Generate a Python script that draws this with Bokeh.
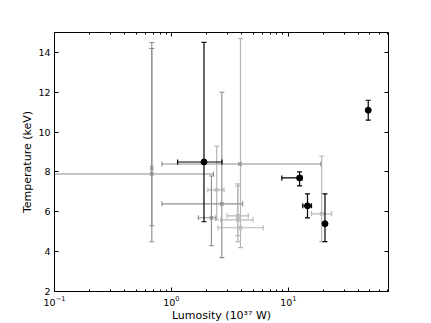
import math
from bokeh.plotting import figure
from bokeh.models import (FixedTicker, LogAxis, LinearAxis, Range1d,
                          LogTickFormatter)
from bokeh.embed import file_html
from bokeh.resources import INLINE

# ---------------- data ----------------
# black series (filled circles)
blk_lum = [1.9, 12.5, 14.6, 20.6, 48.3]
blk_temp = [8.5, 7.7, 6.3, 5.4, 11.1]
blk_temp_lo = [5.5, 7.3, 5.7, 4.5, 10.6]
blk_temp_hi = [14.5, 8.0, 6.9, 6.9, 11.6]
blk_lum_lo = [1.13, 8.8, 13.3, None, None]
blk_lum_hi = [2.71, 13.1, 15.8, None, None]

# mid grey series (crosses)
g1_lum = [0.68, 0.68, 3.86, 2.2, 2.7]
g1_temp = [7.9, 8.2, 8.4, 5.7, 6.4]
g1_temp_lo = [5.3, 4.5, None, 4.3, 3.7]
g1_temp_hi = [14.2, 14.5, None, 7.8, 12.0]
g1_lum_lo = [0.06, None, 0.83, 1.7, 0.83]
g1_lum_hi = [2.29, None, 19.0, 2.4, 4.07]

# light grey series (crosses)
g2_lum = [2.44, 3.7, 3.7, 3.9, 19.3]
g2_temp = [7.1, 5.8, 5.6, 5.2, 5.9]
g2_temp_lo = [5.6, 4.8, 4.5, 4.2, 4.5]
g2_temp_hi = [9.3, 7.4, 7.3, 14.7, 8.8]
g2_lum_lo = [2.05, 3.0, 2.65, 2.5, 15.8]
g2_lum_hi = [2.82, 4.55, 5.0, 6.1, 23.5]

x_ticks = [0.1, 1, 10]
x_minor = [m * 10.0 ** e for e in (-1, 0, 1) for m in range(2, 10)]
y_ticks = [2, 4, 6, 8, 10, 12, 14]
x_start, x_end = 0.1, 72
y_start, y_end = 2, 15

FONT = "DejaVu Sans"

p = figure(x_axis_type="log", x_range=Range1d(x_start, x_end),
           y_range=Range1d(y_start, y_end),
           frame_width=334, frame_height=259,
           min_border_left=54, min_border_top=32, min_border_right=43,
           min_border_bottom=32,
           output_backend="svg", toolbar_location=None)
p.background_fill_color = "white"
p.border_fill_color = "white"
p.xgrid.visible = False
p.ygrid.visible = False
p.outline_line_color = "black"
p.outline_line_width = 1


def draw_series(xs, ys, ylo, yhi, xlo, xhi, color, lw, marker, size):
    # y error bars
    vx, v0, v1 = [], [], []
    for x, lo, hi in zip(xs, ylo, yhi):
        if lo is not None:
            vx.append(x); v0.append(lo); v1.append(hi)
    p.segment(x0=vx, y0=v0, x1=vx, y1=v1, line_color=color, line_width=lw)
    p.scatter(x=vx + vx, y=v0 + v1, marker="dash", size=5,
              line_color=color, line_width=lw)
    # x error bars
    hy, h0, h1 = [], [], []
    cx, cy = [], []
    for x, y, lo, hi in zip(xs, ys, xlo, xhi):
        if lo is not None:
            hy.append(y)
            h0.append(max(lo, x_start)); h1.append(hi)
            if lo >= x_start:
                cx.append(lo); cy.append(y)
            cx.append(hi); cy.append(y)
    p.segment(x0=h0, y0=hy, x1=h1, y1=hy, line_color=color, line_width=lw)
    p.scatter(x=cx, y=cy, marker="dash", angle=math.pi / 2, size=5,
              line_color=color, line_width=lw)
    if marker == "circle":
        p.scatter(x=xs, y=ys, marker="circle", size=size,
                  fill_color=color, line_color=color)
    else:
        p.scatter(x=xs, y=ys, marker="x", size=size,
                  line_color=color, line_width=lw)


draw_series(g2_lum, g2_temp, g2_temp_lo, g2_temp_hi, g2_lum_lo, g2_lum_hi,
            "#b8b8b8", 1.2, "x", 5)
draw_series(g1_lum, g1_temp, g1_temp_lo, g1_temp_hi, g1_lum_lo, g1_lum_hi,
            "#8c8c8c", 1.1, "x", 5)
draw_series(blk_lum, blk_temp, blk_temp_lo, blk_temp_hi, blk_lum_lo, blk_lum_hi,
            "black", 1.2, "circle", 6)


def style_axis(ax, show_labels):
    ax.major_tick_in = 4
    ax.major_tick_out = 0
    ax.minor_tick_in = 2
    ax.minor_tick_out = 0
    ax.axis_line_color = "black"
    ax.major_tick_line_color = "black"
    ax.minor_tick_line_color = "black"
    ax.major_label_text_font = FONT
    ax.major_label_text_font_size = "9.5px"
    ax.major_label_text_color = "black"
    if not show_labels:
        ax.major_label_text_alpha = 0
    ax.axis_label_text_font = FONT
    ax.axis_label_text_font_size = "11px"
    ax.axis_label_text_font_style = "normal"
    ax.axis_label_text_color = "black"


p.xaxis.ticker = FixedTicker(ticks=x_ticks, minor_ticks=x_minor)
p.xaxis.formatter = LogTickFormatter()
p.xaxis.axis_label = "Lumosity (10³⁷ W)"
p.yaxis.ticker = FixedTicker(ticks=y_ticks, minor_ticks=[])
p.yaxis.axis_label = "Temperature (keV)"
for ax in p.xaxis + p.yaxis:
    style_axis(ax, True)
p.xaxis.major_label_standoff = 4
p.yaxis.major_label_standoff = 4
p.xaxis.axis_label_standoff = 0
p.yaxis.axis_label_standoff = 1

top = LogAxis(ticker=FixedTicker(ticks=x_ticks, minor_ticks=x_minor),
              formatter=LogTickFormatter())
style_axis(top, False)
p.add_layout(top, "above")
right = LinearAxis(ticker=FixedTicker(ticks=y_ticks, minor_ticks=[]))
style_axis(right, False)
p.add_layout(right, "right")

open("out.html", "w").write(file_html(p, INLINE))
